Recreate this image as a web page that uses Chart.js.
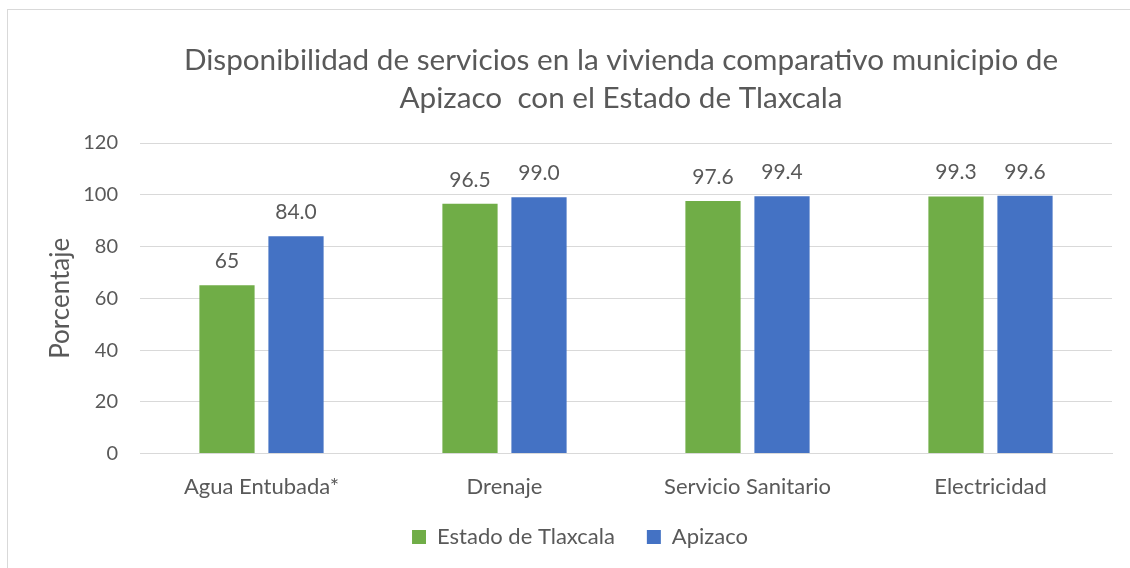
<!DOCTYPE html>
<html>
<head>
<meta charset="utf-8">
<script src="https://cdn.jsdelivr.net/npm/chart.js@4"></script>
<style>
  html, body { margin: 0; padding: 0; background: #fff; overflow: hidden; }
  #frame { position: absolute; left: 7px; top: 9px; width: 1140px; height: 580px; border: 1px solid #d9d9d9; }
  #wrap { position: absolute; left: 0; top: 0; width: 1130px; height: 568px; }
</style>
</head>
<body>
<div id="frame"></div>
<div id="wrap"><canvas id="bar_chart"></canvas></div>
<script>
const categories = ["Agua Entubada*", "Drenaje", "Servicio Sanitario", "Electricidad"];
const tlaxcala = [65, 96.5, 97.6, 99.3];
const apizaco = [84.0, 99.0, 99.4, 99.6];
const tlaxcalaDecimals = [0, 1, 1, 1];
const apizacoDecimals = [1, 1, 1, 1];
const yTicks = [0, 20, 40, 60, 80, 100, 120];
const titleLines = ['Disponibilidad de servicios en la vivienda comparativo municipio de', 'Apizaco  con el Estado de Tlaxcala'];

const textColor = '#595959';
const fontFamily = 'Lato, "Open Sans", sans-serif';

Chart.defaults.font.family = fontFamily;
Chart.defaults.color = textColor;

// two-line title, drawn a little left of the plot centre
const plotTitle = {
    id: 'plotTitle',
    afterDraw(chart) {
        const c = chart.ctx;
        const area = chart.chartArea;
        const cx = (area.left + area.right) / 2 - 5;
        c.save();
        c.font = '29.7px ' + fontFamily;
        c.fillStyle = textColor;
        c.textAlign = 'center';
        c.textBaseline = 'middle';
        titleLines.forEach((line, i) => c.fillText(line, cx, 60 + i * 38));
        c.restore();
    }
};

// centre the legend row at x = 580 and give the x labels room below their box
const layoutTweaks = {
    id: 'layoutTweaks',
    afterLayout(chart) {
        const lg = chart.legend;
        const dx = 580 - (lg.left + lg.right) / 2;
        lg.left += dx;
        lg.right += dx;
        chart.scales.x.bottom += 30;
    }
};

// value labels above each bar
const valueLabels = {
    id: 'valueLabels',
    afterDatasetsDraw(chart) {
        const c = chart.ctx;
        c.save();
        c.font = '21px ' + fontFamily;
        c.fillStyle = textColor;
        c.textAlign = 'center';
        c.textBaseline = 'middle';
        chart.data.datasets.forEach((ds, i) => {
            chart.getDatasetMeta(i).data.forEach((bar, j) => {
                c.fillText(ds.data[j].toFixed(ds.decimals[j]), bar.x, bar.y - 24);
            });
        });
        c.restore();
    }
};

const ctx = document.querySelector('#bar_chart');

new Chart(ctx, {
    type: 'bar',
    data: {
        labels: categories,
        datasets: [
            {
                label: 'Estado de Tlaxcala',
                data: tlaxcala,
                decimals: tlaxcalaDecimals,
                backgroundColor: '#70AD47',
                categoryPercentage: 0.568,
                barPercentage: 0.8
            },
            {
                label: 'Apizaco',
                data: apizaco,
                decimals: apizacoDecimals,
                backgroundColor: '#4472C4',
                categoryPercentage: 0.568,
                barPercentage: 0.8
            }
        ]
    },
    options: {
        responsive: true,
        maintainAspectRatio: false,
        animation: false,
        layout: {
            padding: { top: 143, right: 18, bottom: 10, left: 0 }
        },
        plugins: {
            title: { display: false },
            legend: {
                position: 'bottom',
                labels: {
                    boxWidth: 14,
                    boxHeight: 14,
                    padding: 32,
                    font: { size: 22 },
                    color: textColor
                }
            },
            tooltip: { enabled: false }
        },
        scales: {
            x: {
                grid: { display: false },
                border: { color: '#d9d9d9' },
                ticks: { font: { size: 22 }, color: textColor, padding: 12 },
                afterFit: axis => { axis.height -= 18; }
            },
            y: {
                min: 0,
                max: 120,
                afterBuildTicks: axis => { axis.ticks = yTicks.map(v => ({ value: v })); },
                afterFit: axis => { axis.width = 140; },
                grid: { color: '#d9d9d9', drawTicks: false },
                border: { display: false },
                ticks: { font: { size: 20 }, color: textColor, padding: 22 },
                title: {
                    display: true,
                    text: 'Porcentaje',
                    font: { size: 26 },
                    color: textColor,
                    padding: { top: 45, bottom: 0 }
                }
            }
        }
    },
    plugins: [valueLabels, plotTitle, layoutTweaks]
});
</script>
</body>
</html>
